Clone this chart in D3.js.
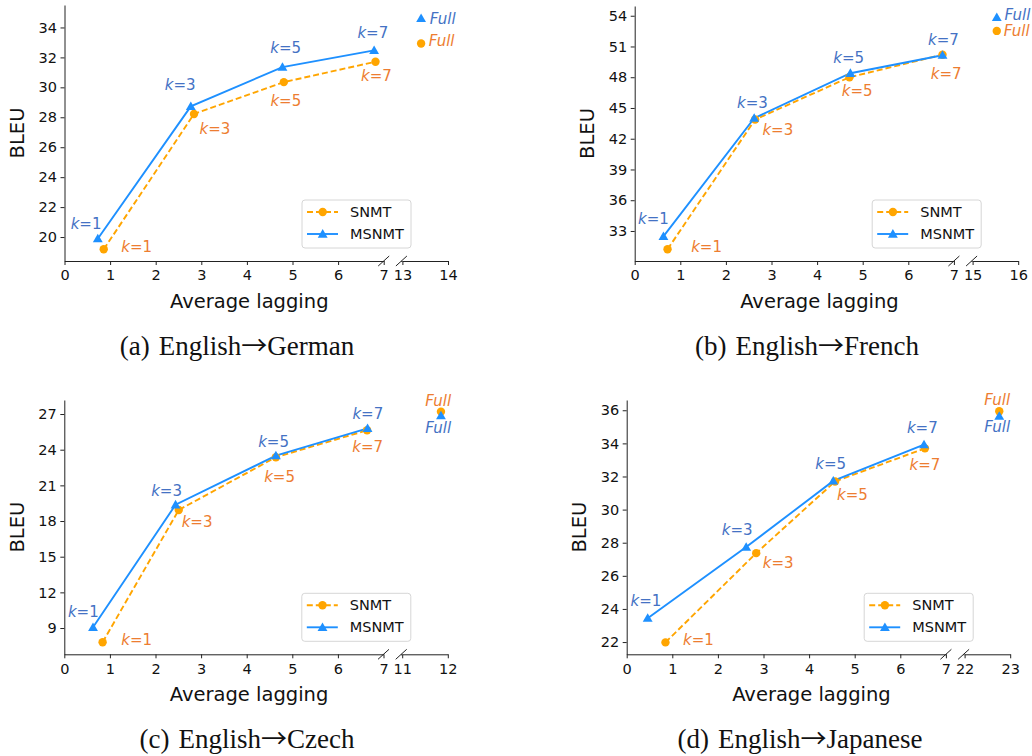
<!DOCTYPE html>
<html><head><meta charset="utf-8">
<script src="https://cdn.jsdelivr.net/npm/d3@7"></script>
<style>body{margin:0;background:#fff}</style></head>
<body><svg id="c" width="1032" height="756"></svg>
<script>
// ---------------- DATA ----------------
const captionTags = ["(a)", "(b)", "(c)", "(d)"];
const captionSrc = ["English", "English", "English", "English"];
const captionTgt = ["German", "French", "Czech", "Japanese"];
const kLabels = ["1", "3", "5", "7"];
const seriesNames = ["SNMT", "MSNMT"];
const xTicksLeft = [0, 1, 2, 3, 4, 5, 6, 7];

// (a) English→German
const deSnmtAL = [0.86, 2.84, 4.81, 6.82];
const deSnmtBleu = [19.18, 28.22, 30.35, 31.71];
const deMsnmtAL = [0.73, 2.77, 4.78, 6.79];
const deMsnmtBleu = [19.89, 28.73, 31.35, 32.47];
const deFullAL = 13.41;
const deFullBleu = [32.93, 34.6];       // SNMT, MSNMT
const deYTicks = [20, 22, 24, 26, 28, 30, 32, 34];
const deXTicksRight = [13, 14];
const deYLim = [18.4, 35.5];

// (b) English→French
const frSnmtAL = [0.72, 2.64, 4.71, 6.75];
const frSnmtBleu = [31.21, 43.87, 48.0, 50.2];
const frMsnmtAL = [0.63, 2.62, 4.73, 6.75];
const frMsnmtBleu = [32.48, 44.0, 48.39, 50.15];
const frFullAL = 15.53;
const frFullBleu = [52.52, 53.84];
const frYTicks = [33, 36, 39, 42, 45, 48, 51, 54];
const frXTicksRight = [15, 16];
const frYLim = [30.07, 54.95];

// (c) English→Czech
const csSnmtAL = [0.84, 2.51, 4.64, 6.64];
const csSnmtBleu = [7.8, 18.93, 23.37, 25.63];
const csMsnmtAL = [0.63, 2.44, 4.64, 6.65];
const csMsnmtBleu = [9.06, 19.37, 23.5, 25.8];
const csFullAL = 11.85;
const csFullBleu = [27.2, 26.86];
const csYTicks = [9, 12, 15, 18, 21, 24, 27];
const csXTicksRight = [11, 12];
const csYLim = [6.79, 28.18];

// (d) English→Japanese
const jaSnmtAL = [0.85, 2.84, 4.57, 6.54];
const jaSnmtBleu = [21.98, 27.37, 31.7, 33.7];
const jaMsnmtAL = [0.46, 2.62, 4.53, 6.52];
const jaMsnmtBleu = [23.44, 27.74, 31.73, 33.92];
const jaFullAL = 22.76;
const jaFullBleu = [35.94, 35.64];
const jaYTicks = [22, 24, 26, 28, 30, 32, 34, 36];
const jaXTicksRight = [22, 23];
const jaYLim = [21.26, 36.62];

// ---------------- LAYOUT / STYLE ----------------
const layout = [
  {L: 64.5, T: 5, B: 261, capX: 237, capY: 355},
  {L: 634.7, T: 6, B: 261, capX: 807, capY: 355},
  {L: 64.3, T: 400, B: 654.3, capX: 247, capY: 748},
  {L: 626.7, T: 400, B: 654.3, capX: 800, capY: 748}
];
// label offsets in px: [k=1,k=3,k=5,k=7,Full]
const labelOffsets = [
  {snmt: [[33,-2.6],[21,14.6],[2,19],[1,14.7],[20.5,-2.3]],
   msnmt: [[-11.7,-14.7],[-10.7,-21],[3.3,-19.4],[-1.3,-17.3],[21.6,0.6]]},
  {snmt: [[39,-2.6],[22.7,10.7],[7.7,13.3],[3.7,19.4],[20,0.3]],
   msnmt: [[-10,-17.3],[-1.7,-15.3],[-1.7,-15.3],[1,-14.7],[20.7,-2.3]]},
  {snmt: [[34,-2.3],[18.3,11.7],[3.7,20],[0.6,17],[-2.7,-11]],
   msnmt: [[-9.7,-15.6],[-9,-13.7],[-2.3,-13.4],[0.3,-14],[-2.7,12]]},
  {snmt: [[33,-2.3],[22,9.4],[17.4,13.3],[0,16.7],[-2,-11.3]],
   msnmt: [[-1.7,-17.3],[-9,-17],[-2.6,-17.4],[-1.7,-17],[-2,10.4]]}
];
const UNIT = 45.6, GAP = 18.7;
const colSnmt = "#FFA500", colMsnmt = "#1E90FF";
const txtSnmt = "#ED7D31", txtMsnmt = "#4472C4";
const sans = "DejaVu Sans";
const fmt = d3.format("d");

const panels = [
  {sa: deSnmtAL, sb: deSnmtBleu, ma: deMsnmtAL, mb: deMsnmtBleu, fa: deFullAL, fb: deFullBleu, yt: deYTicks, xr: deXTicksRight, yl: deYLim},
  {sa: frSnmtAL, sb: frSnmtBleu, ma: frMsnmtAL, mb: frMsnmtBleu, fa: frFullAL, fb: frFullBleu, yt: frYTicks, xr: frXTicksRight, yl: frYLim},
  {sa: csSnmtAL, sb: csSnmtBleu, ma: csMsnmtAL, mb: csMsnmtBleu, fa: csFullAL, fb: csFullBleu, yt: csYTicks, xr: csXTicksRight, yl: csYLim},
  {sa: jaSnmtAL, sb: jaSnmtBleu, ma: jaMsnmtAL, mb: jaMsnmtBleu, fa: jaFullAL, fb: jaFullBleu, yt: jaYTicks, xr: jaXTicksRight, yl: jaYLim}
];

const svg = d3.select("#c");
const tri = d3.symbol().type(d3.symbolTriangle).size(42);

function addLabel(g, x, y, color, isFull, k) {
  const t = g.append("text").attr("x", x).attr("y", y)
    .attr("text-anchor", "middle").attr("dominant-baseline", "central")
    .attr("font-family", sans).attr("font-size", 15).attr("fill", color);
  if (isFull) {
    t.append("tspan").attr("font-style", "italic").text("Full");
  } else {
    t.append("tspan").attr("font-style", "italic").text("k");
    t.append("tspan").text("=" + k);
  }
}

panels.forEach((p, i) => {
  const lay = layout[i];
  const g = svg.append("g");
  const x7 = lay.L + 7 * UNIT;
  const x1 = d3.scaleLinear().domain([0, 7]).range([lay.L, x7]);
  const x2 = d3.scaleLinear().domain([p.xr[0], p.xr[1]]).range([x7 + GAP, x7 + GAP + UNIT]);
  const y = d3.scaleLinear().domain(p.yl).range([lay.B, lay.T]);

  // axes
  const ax1 = g.append("g").attr("transform", `translate(0,${lay.B})`)
    .call(d3.axisBottom(x1).tickValues(xTicksLeft).tickFormat(fmt).tickSize(4).tickSizeOuter(0).tickPadding(5));
  const ax2 = g.append("g").attr("transform", `translate(0,${lay.B})`)
    .call(d3.axisBottom(x2).tickValues(p.xr).tickFormat(fmt).tickSize(4).tickSizeOuter(0).tickPadding(5));
  const ay = g.append("g").attr("transform", `translate(${lay.L},0)`)
    .call(d3.axisLeft(y).tickValues(p.yt).tickFormat(fmt).tickSize(4).tickSizeOuter(0).tickPadding(3.5));
  [ax1, ax2, ay].forEach(a => {
    a.selectAll("text").attr("font-family", sans).attr("font-size", 14.5).attr("fill", "#111");
    a.selectAll("line").attr("stroke", "#222");
    a.select(".domain").attr("stroke", "#222");
  });
  g.append("line").attr("x1", x2.range()[0] - 1.2).attr("x2", x2.range()[0])
    .attr("y1", lay.B + 0.5).attr("y2", lay.B + 0.5).attr("stroke", "#222");

  // break marks
  [x7, x2.range()[0] - 1].forEach(bx => {
    g.append("line").attr("x1", bx - 5.5).attr("y1", lay.B + 5)
      .attr("x2", bx + 5.5).attr("y2", lay.B - 5)
      .attr("stroke", "#222").attr("stroke-width", 1);
  });

  // axis labels
  g.append("text").attr("x", (lay.L + x2.range()[1]) / 2 - 7).attr("y", lay.B + 40.5)
    .attr("text-anchor", "middle").attr("dominant-baseline", "central")
    .attr("font-family", sans).attr("font-size", 19.5).attr("fill", "#111").text("Average lagging");
  g.append("text")
    .attr("transform", `translate(${lay.L - 47},${(lay.T + lay.B) / 2}) rotate(-90)`)
    .attr("text-anchor", "middle").attr("dominant-baseline", "central")
    .attr("font-family", sans).attr("font-size", 19.5).attr("fill", "#111").text("BLEU");

  // lines
  const sPts = p.sa.map((a, j) => [a, p.sb[j]]);
  const mPts = p.ma.map((a, j) => [a, p.mb[j]]);
  const line = d3.line().x(d => x1(d[0])).y(d => y(d[1]));
  g.append("path").attr("d", line(sPts)).attr("fill", "none")
    .attr("stroke", colSnmt).attr("stroke-width", 1.9).attr("stroke-dasharray", "6,3");
  g.append("path").attr("d", line(mPts)).attr("fill", "none")
    .attr("stroke", colMsnmt).attr("stroke-width", 1.9);

  // markers
  sPts.forEach(d => g.append("circle").attr("cx", x1(d[0])).attr("cy", y(d[1])).attr("r", 4.2).attr("fill", colSnmt));
  mPts.forEach(d => g.append("path").attr("d", tri).attr("transform", `translate(${x1(d[0])},${y(d[1]) + 0.8})`).attr("fill", colMsnmt));
  g.append("circle").attr("cx", x2(p.fa)).attr("cy", y(p.fb[0])).attr("r", 4.2).attr("fill", colSnmt);
  g.append("path").attr("d", tri).attr("transform", `translate(${x2(p.fa)},${y(p.fb[1]) + 0.8})`).attr("fill", colMsnmt);

  // labels
  const off = labelOffsets[i];
  sPts.forEach((d, j) => addLabel(g, x1(d[0]) + off.snmt[j][0], y(d[1]) + off.snmt[j][1], txtSnmt, false, kLabels[j]));
  mPts.forEach((d, j) => addLabel(g, x1(d[0]) + off.msnmt[j][0], y(d[1]) + off.msnmt[j][1], txtMsnmt, false, kLabels[j]));
  addLabel(g, x2(p.fa) + off.snmt[4][0], y(p.fb[0]) + off.snmt[4][1], txtSnmt, true);
  addLabel(g, x2(p.fa) + off.msnmt[4][0], y(p.fb[1]) + off.msnmt[4][1], txtMsnmt, true);

  // legend
  const lw = 109, lh = 48;
  const lx = x2.range()[1] - 37 - lw, ly = lay.B - 13 - lh;
  const lg = g.append("g").attr("transform", `translate(${lx},${ly})`);
  lg.append("rect").attr("width", lw).attr("height", lh).attr("rx", 3)
    .attr("fill", "#fff").attr("fill-opacity", 0.85).attr("stroke", "#d6d6d6").attr("stroke-width", 1);
  [0, 1].forEach(r => {
    const cy = 12 + r * 22;
    lg.append("line").attr("x1", 5).attr("x2", 36).attr("y1", cy).attr("y2", cy)
      .attr("stroke", r === 0 ? colSnmt : colMsnmt).attr("stroke-width", 1.9)
      .attr("stroke-dasharray", r === 0 ? "6,3" : null);
    if (r === 0) lg.append("circle").attr("cx", 20.7).attr("cy", cy).attr("r", 4.2).attr("fill", colSnmt);
    else lg.append("path").attr("d", tri).attr("transform", `translate(20.7,${cy + 0.8})`).attr("fill", colMsnmt);
    lg.append("text").attr("x", 48).attr("y", cy).attr("dominant-baseline", "central")
      .attr("font-family", sans).attr("font-size", 14.5).attr("fill", "#111").text(seriesNames[r]);
  });

  // caption
  const cap = svg.append("text").attr("x", lay.capX).attr("y", lay.capY)
    .attr("text-anchor", "middle").attr("font-family", "Liberation Serif")
    .attr("font-size", 27).attr("fill", "#111");
  cap.append("tspan").text(captionTags[i]);
  cap.append("tspan").attr("dx", 9).text(captionSrc[i]);
  cap.append("tspan").attr("font-family", "Noto Sans CJK SC").attr("font-size", 26).text("→");
  cap.append("tspan").attr("font-size", 27).text(captionTgt[i]);
});
</script>
</body></html>
